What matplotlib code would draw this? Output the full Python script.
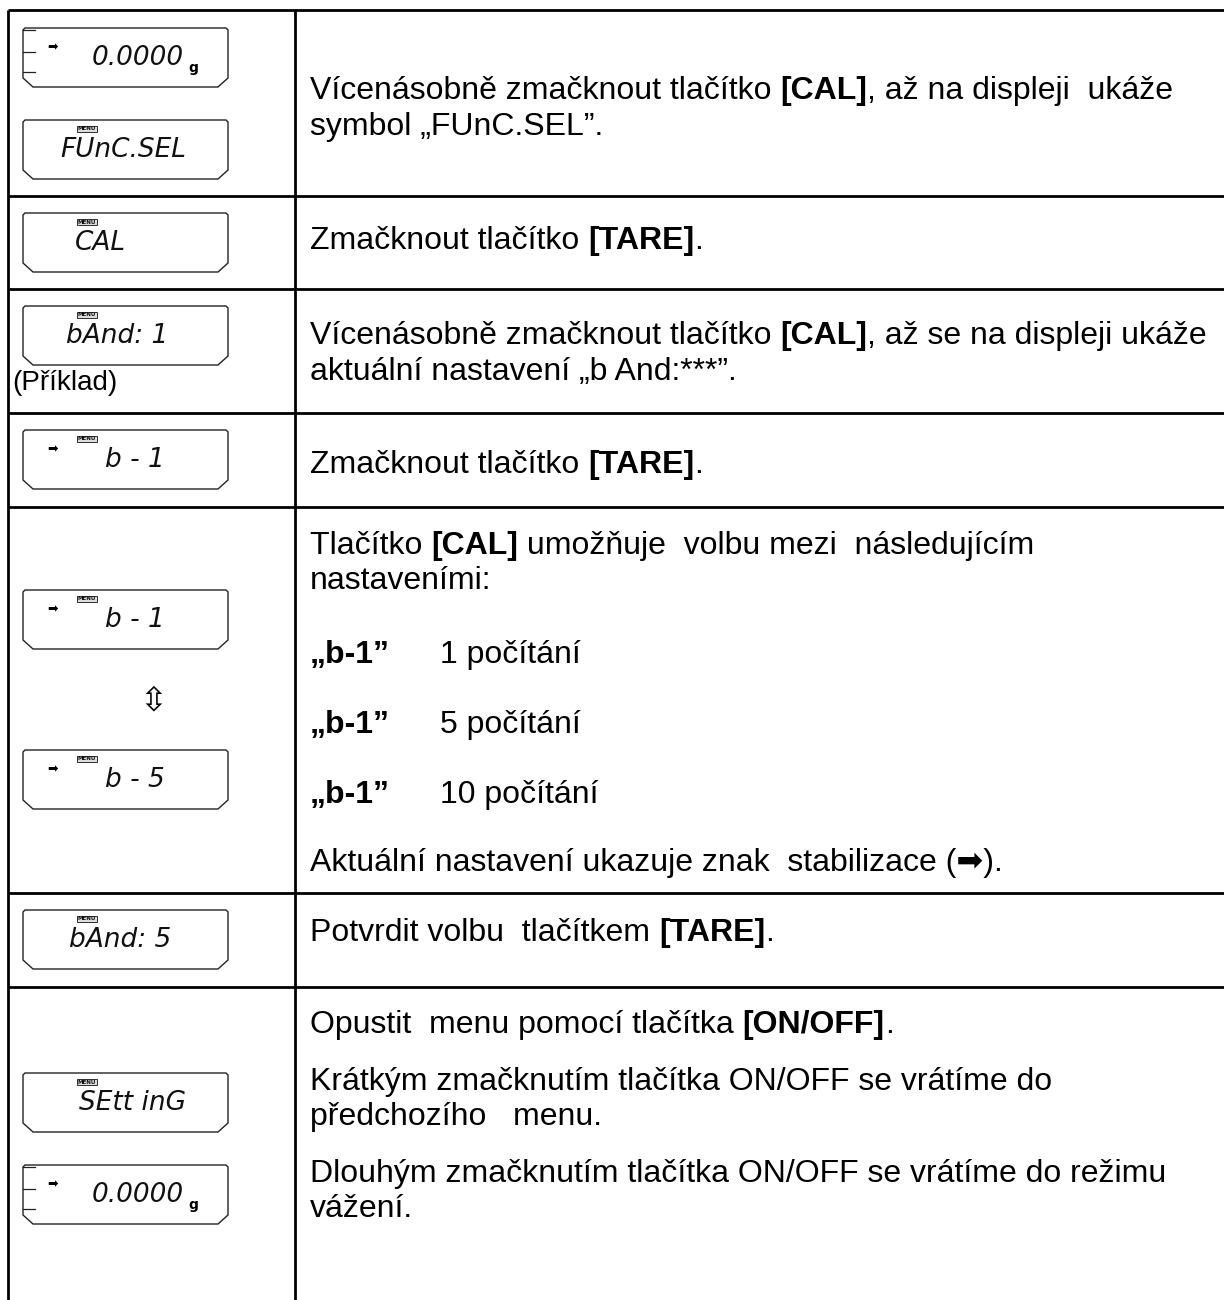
import re

import matplotlib

matplotlib.use("Agg")

import matplotlib.pyplot as plt
from matplotlib import font_manager
from matplotlib.patches import Polygon

# --- content -------------------------------------------------------------
BODY_TEXT = [
    "Vícenásobně zmačknout tlačítko <b>[CAL]</b>, až na displeji  ukáže",
    "symbol „FUnC.SEL”.",
    "Zmačknout tlačítko <b>[TARE]</b>.",
    "Vícenásobně zmačknout tlačítko <b>[CAL]</b>, až se na displeji ukáže",
    "aktuální nastavení „b And:***”.",
    "Zmačknout tlačítko <b>[TARE]</b>.",
    "Tlačítko <b>[CAL]</b> umožňuje  volbu mezi  následujícím",
    "nastaveními:",
    "Aktuální nastavení ukazuje znak  stabilizace (➡).",
    "Potvrdit volbu  tlačítkem <b>[TARE]</b>.",
    "Opustit  menu pomocí tlačítka <b>[ON/OFF]</b>.",
    "Krátkým zmačknutím tlačítka ON/OFF se vrátíme do",
    "předchozího   menu.",
    "Dlouhým zmačknutím tlačítka ON/OFF se vrátíme do režimu",
    "vážení.",
]
OPTION_CODES = ["„b-1”", "„b-1”", "„b-1”"]
OPTION_NAMES = ["1 počítání", "5 počítání", "10 počítání"]

DISPLAY_TEXT = ["0.0000", "FUnC.SEL", "CAL", "bAnd: 1", "b - 1",
                "b - 1", "b - 5", "bAnd: 5", "SEtt inG", "0.0000"]
DISPLAY_MENU = [False, True, True, True, True, True, True, True, True, False]
DISPLAY_ARROW = [True, False, False, False, True, True, True, False, False, True]
DISPLAY_UNIT = [True, False, False, False, False, False, False, False, False, True]

# --- layout (pixels) -------------------------------------------------------
W, H = 1224, 1300
ROW_EDGES = [10, 196, 289, 413, 507, 893, 987]
COL_X = [8, 295]
BODY_Y = [88, 124, 238, 333, 369, 462, 543, 578, 860, 930,
          1022, 1079, 1114, 1171, 1206]
OPTION_Y = [652, 722, 792]
DISPLAY_TOP = [28, 120, 213, 306, 430, 590, 750, 910, 1073, 1165]
DISPLAY_CX = [138, 123, 100, 117, 135, 135, 135, 120, 133, 138]

TEXT_X = 310
TAB_X = 440
FS = 23
BODY_FONT = ["Liberation Sans", "DejaVu Sans"]

installed = {f.name for f in font_manager.fontManager.ttflist}
LCD_FONT = [n for n in ("Liberation Sans Narrow", "DejaVu Sans") if n in installed]

fig = plt.figure(figsize=(W / 100, H / 100), dpi=100)
ax = fig.add_axes([0, 0, 1, 1])
ax.set_xlim(0, W)
ax.set_ylim(H, 0)
ax.axis("off")
renderer = fig.canvas.get_renderer()


def advance(s, weight):
    t = ax.text(0, 0, s + "|", fontsize=FS, fontweight=weight, family=BODY_FONT)
    w1 = t.get_window_extent(renderer).width
    t.set_text("|")
    w2 = t.get_window_extent(renderer).width
    t.remove()
    return w1 - w2


def rich_line(x, y, line):
    for part in re.split(r"(<b>.*?</b>)", line):
        if not part:
            continue
        weight = "normal"
        if part.startswith("<b>"):
            part, weight = part[3:-4], "bold"
        ax.text(x, y + 11, part, fontsize=FS, fontweight=weight,
                family=BODY_FONT, va="baseline", ha="left", color="black")
        x += advance(part, weight)


# table grid
for y in ROW_EDGES:
    ax.plot([COL_X[0], W], [y, y], color="black", lw=2.0, solid_capstyle="butt")
for x in COL_X:
    ax.plot([x, x], [ROW_EDGES[0], H], color="black", lw=2.0, solid_capstyle="butt")

# right-hand column text
for y, line in zip(BODY_Y, BODY_TEXT):
    rich_line(TEXT_X, y, line)
for y, code, name in zip(OPTION_Y, OPTION_CODES, OPTION_NAMES):
    rich_line(TEXT_X, y, f"<b>{code}</b>")
    rich_line(TAB_X, y, name)

# left-hand column: balance displays
x0, x1 = 23, 228
for top, label, menu, arrow, unit, cx in zip(DISPLAY_TOP, DISPLAY_TEXT, DISPLAY_MENU,
                                               DISPLAY_ARROW, DISPLAY_UNIT, DISPLAY_CX):
    bot = top + 59
    outline = [(x0, top + 2), (x0 + 2, top), (x1 - 2, top), (x1, top + 2),
               (x1, bot - 9), (x1 - 10, bot), (x0 + 10, bot), (x0, bot - 9)]
    ax.add_patch(Polygon(outline, closed=True, fill=False, ec="#222222", lw=1.0))
    ax.text(cx, top + 30, label, fontsize=19, family=LCD_FONT, style="italic",
            ha="center", va="center", color="#111111")
    if menu:
        ax.text(87, top + 9, "MENU", fontsize=4, fontweight="bold",
                family=["DejaVu Sans"], ha="center", va="center", color="#111111",
                bbox=dict(boxstyle="square,pad=0.15", fc="#dddddd", ec="#111111", lw=0.6))
    if arrow:
        ax.text(53, top + 20, "➡", fontsize=9, family=["DejaVu Sans"],
                ha="center", va="center", color="black")
    if unit:
        ax.text(193, top + 40, "g", fontsize=10, fontweight="bold",
                family=["DejaVu Sans"], ha="center", va="center", color="black")
        for dy in (2, 24, 44):
            ax.plot([x0, x0 + 12], [top + dy, top + dy], color="#222222", lw=0.9)

ax.text(12, 383, "(Příklad)", fontsize=20, family=BODY_FONT,
        ha="left", va="center", color="black")
ax.text(153, 701, "⇳", fontsize=24, family=["DejaVu Sans"],
        ha="center", va="center", color="black")

fig.savefig("out.png", dpi=100)
